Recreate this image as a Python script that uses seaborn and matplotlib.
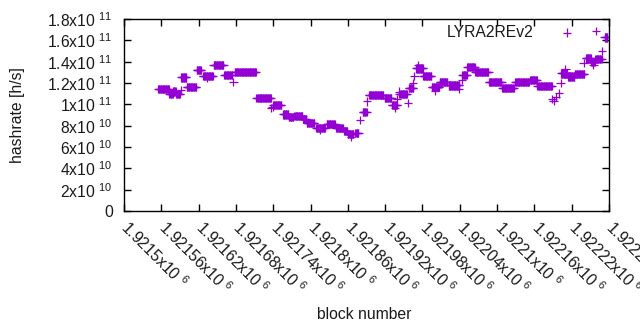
import numpy as np
import pandas as pd
import matplotlib
matplotlib.use("Agg")
import matplotlib.pyplot as plt
from matplotlib.transforms import ScaledTranslation
import seaborn as sns

# plateaus: first block, last block, hashrate (x1e10 h/s)
seg_start = [1921555, 1921573, 1921579, 1921584, 1921592, 1921601, 1921617, 1921627,
             1921644, 1921661, 1921678, 1921713, 1921740, 1921756, 1921765, 1921774,
             1921788, 1921794, 1921809, 1921826, 1921841, 1921854, 1921860, 1921872,
             1921884, 1921894, 1921919, 1921931, 1921943, 1921958, 1921970, 1921981,
             1921995, 1922008, 1922022, 1922044, 1922052, 1922065, 1922087, 1922108,
             1922129, 1922153, 1922165, 1922203, 1922214, 1922225, 1922243, 1922251,
             1922258, 1922273]
seg_end = [1921572, 1921578, 1921583, 1921590, 1921600, 1921616, 1921624, 1921643,
           1921660, 1921674, 1921712, 1921736, 1921753, 1921764, 1921772, 1921787,
           1921793, 1921806, 1921823, 1921839, 1921852, 1921859, 1921869, 1921877,
           1921890, 1921917, 1921930, 1921939, 1921955, 1921965, 1921981, 1921994,
           1922007, 1922020, 1922039, 1922051, 1922064, 1922086, 1922107, 1922127,
           1922151, 1922164, 1922188, 1922212, 1922224, 1922240, 1922251, 1922257,
           1922268, 1922277]
seg_value = [11.41, 11.0, 11.2, 10.95, 12.53, 11.6, 13.2, 12.65,
             13.66, 12.72, 13.0, 10.57, 9.91, 9.06, 8.84, 8.9,
             8.63, 8.22, 7.81, 8.13, 7.75, 7.53, 7.22, 7.34,
             9.28, 10.9, 10.57, 9.91, 10.94, 11.5, 13.37, 12.66,
             11.6, 12.1, 11.78, 12.75, 13.53, 13.03, 12.1, 11.5,
             12.1, 12.28, 11.69, 12.9, 12.6, 12.84, 14.3, 13.97,
             14.22, 16.28]

# isolated points: block, hashrate (x1e10 h/s)
pt_block = [1921592, 1921633, 1921676, 1921736, 1921739, 1921815, 1921865, 1921880,
            1921891, 1921936, 1921939, 1921943, 1921957, 1921965, 1921967, 1921973,
            1922000, 1922010, 1922039, 1922044, 1922189, 1922191, 1922195, 1922200,
            1922202, 1922210, 1922212, 1922239, 1922255, 1922269]
pt_value = [11.35, 12.45, 12.09, 9.63, 9.78, 7.6, 6.97, 8.53,
            10.27, 9.66, 10.47, 11.19, 10.1, 11.97, 12.66, 13.7,
            11.25, 11.9, 11.44, 12.28, 10.5, 10.31, 10.69, 11.03,
            11.97, 13.28, 16.73, 13.9, 13.66, 15.0]

x_ticks = [1921500 + 60 * i for i in range(14)]
x_labels = ["1.9215", "1.92156", "1.92162", "1.92168", "1.92174", "1.9218", "1.92186",
            "1.92192", "1.92198", "1.92204", "1.9221", "1.92216", "1.92222", "1.92228"]
y_ticks = [0, 2e10, 4e10, 6e10, 8e10, 1e11, 1.2e11, 1.4e11, 1.6e11, 1.8e11]
y_mant = ["0", "2", "4", "6", "8", "1", "1.2", "1.4", "1.6", "1.8"]
y_exp = ["", "10", "10", "10", "10", "11", "11", "11", "11", "11"]

blocks = np.concatenate([np.arange(s, e + 1) for s, e in zip(seg_start, seg_end)] + [np.array(pt_block)])
values = np.concatenate([np.full(e - s + 1, v) for s, e, v in zip(seg_start, seg_end, seg_value)] + [np.array(pt_value)]) * 1e10
df = pd.DataFrame({"block": blocks, "hashrate": values, "series": "LYRA2REv2"})

sns.set_theme(style="white")
plt.rcParams["font.family"] = ["Liberation Sans", "DejaVu Sans"]
plt.rcParams["mathtext.fontset"] = "custom"
plt.rcParams["mathtext.rm"] = "Liberation Sans"
plt.rcParams["mathtext.it"] = "Liberation Sans"
plt.rcParams["mathtext.bf"] = "Liberation Sans"

FS = 11.3
TXT = "#1a1a1a"

fig = plt.figure(figsize=(6.4, 3.3), dpi=100)
ax = fig.add_axes([124 / 640, 1 - 211 / 330, (609 - 124) / 640, (211 - 19) / 330])

color = "#9400d3"
sns.scatterplot(data=df, x="block", y="hashrate", hue="series", palette=[color],
                marker="+", s=36, linewidth=0.9, ax=ax, legend=True)

ax.set_xlim(1921500, 1922280)
ax.set_ylim(0, 1.8e11)

ax.set_xticks(x_ticks)
ax.set_xticklabels([f"{m}x10 $^{{6}}$" for m in x_labels], rotation=-45,
                   ha="left", va="top", rotation_mode="anchor", fontsize=FS)
ax.set_yticks(y_ticks)
ax.set_yticklabels([m if not e else f"{m}x10 $^{{{e}}}$" for m, e in zip(y_mant, y_exp)],
                   fontsize=FS)

ax.tick_params(direction="in", length=5, width=1, top=True, right=True,
               bottom=True, left=True, color="black", labelcolor=TXT)
ax.tick_params(axis="y", pad=8)
ax.tick_params(axis="x", pad=5)
off = ScaledTranslation(7 / 100, 0, fig.dpi_scale_trans)
for lab in ax.get_xticklabels():
    lab.set_transform(lab.get_transform() + off)
for sp in ax.spines.values():
    sp.set_color("black")
    sp.set_linewidth(1)

ax.set_xlabel("block number", fontsize=FS, color=TXT)
ax.set_ylabel("hashrate [h/s]", fontsize=FS, color=TXT)
ax.xaxis.set_label_coords(0.495, -0.5)
ax.yaxis.set_label_coords(-0.204, 0.5)

leg = ax.legend(loc="center right", bbox_to_anchor=(1.0186, 0.932), frameon=False,
                markerfirst=False, fontsize=FS, handletextpad=3.0, borderaxespad=0.0)
for t in leg.get_texts():
    t.set_color(TXT)

fig.savefig("out.png", dpi=100)
